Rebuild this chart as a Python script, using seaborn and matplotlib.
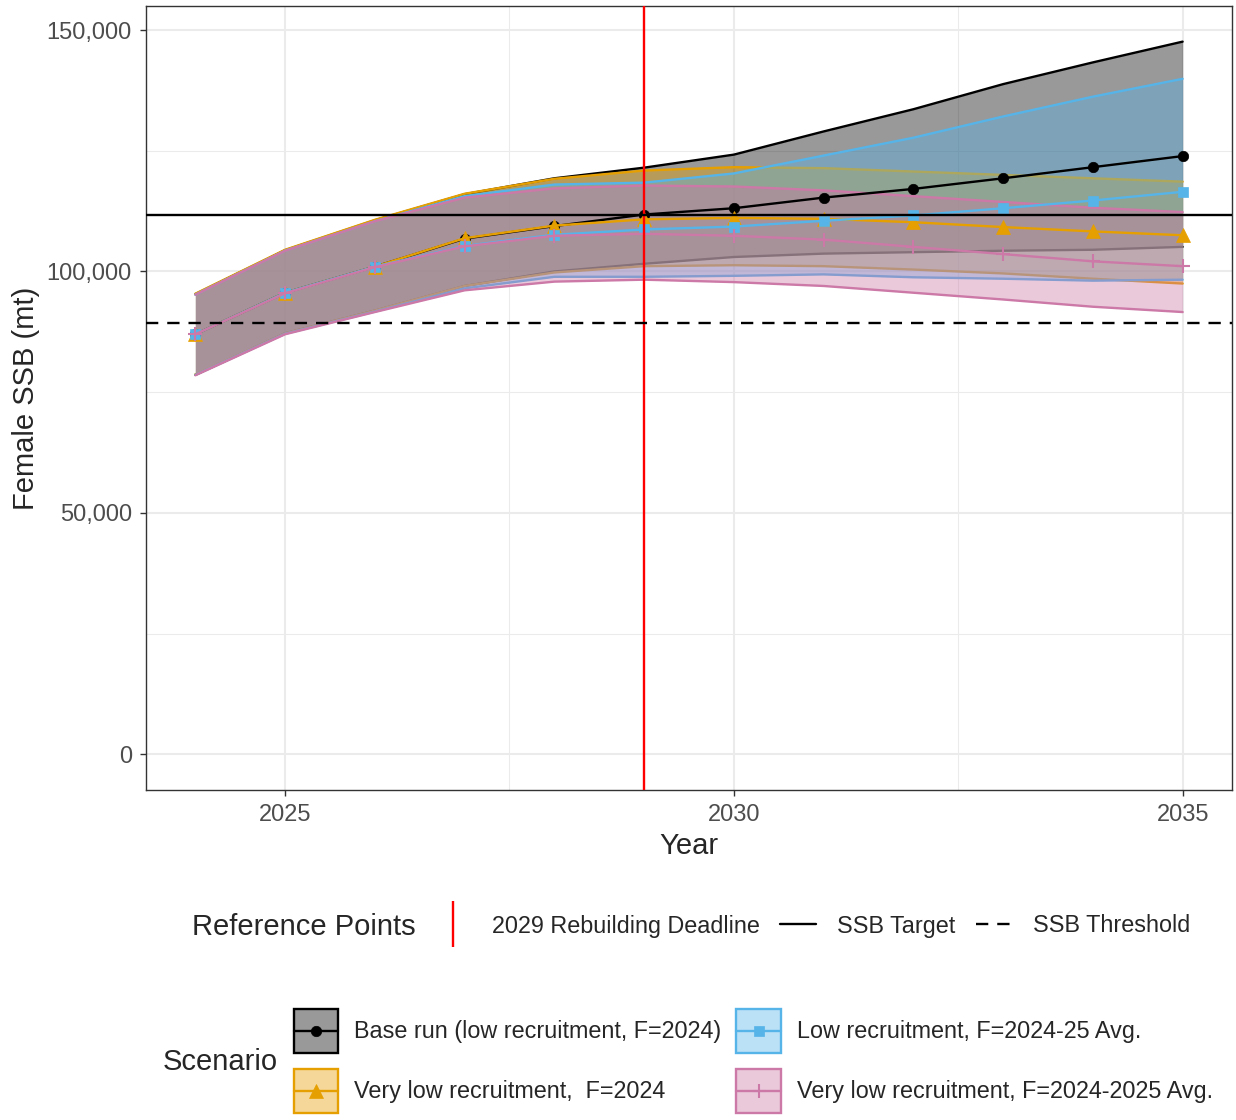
# SSB projections by scenario, with rebuilding reference points

import numpy as np
import pandas as pd
import matplotlib.pyplot as plt
import seaborn as sns
from matplotlib.lines import Line2D
from matplotlib.patches import Patch
from matplotlib.colors import to_rgba
from matplotlib.legend_handler import HandlerLine2D
from matplotlib.ticker import FuncFormatter, MultipleLocator

# data (in thousands of mt)
years = list(range(2024, 2036))

scenarios = [
    "Base run (low recruitment, F=2024)",
    "Very low recruitment,  F=2024",
    "Low recruitment, F=2024-25 Avg.",
    "Very low recruitment, F=2024-2025 Avg.",
]

base_med = [87.0, 95.6, 101.0, 106.8, 109.4, 111.8, 113.1, 115.3, 117.1, 119.3, 121.6, 123.9]
base_hi = [95.3, 104.4, 110.6, 116.0, 119.3, 121.5, 124.2, 129.0, 133.6, 138.8, 143.3, 147.6]
base_lo = [78.6, 87.2, 91.9, 97.0, 100.0, 101.6, 103.0, 103.7, 104.0, 104.3, 104.5, 105.1]

vlow_med = [87.0, 95.6, 101.0, 106.9, 109.5, 110.8, 111.1, 110.9, 110.2, 109.2, 108.3, 107.5]
vlow_hi = [95.4, 104.5, 110.7, 116.1, 119.2, 120.9, 121.6, 121.4, 120.7, 120.0, 119.3, 118.6]
vlow_lo = [78.7, 87.2, 91.9, 97.0, 99.8, 101.1, 101.3, 101.1, 100.4, 99.6, 98.5, 97.5]

low_avg_med = [87.0, 95.6, 101.0, 105.3, 107.6, 108.7, 109.3, 110.5, 111.6, 113.1, 114.7, 116.5]
low_avg_hi = [95.2, 104.3, 110.4, 115.6, 118.0, 118.4, 120.3, 124.0, 127.7, 132.1, 136.2, 139.9]
low_avg_lo = [78.6, 87.1, 91.7, 96.5, 98.9, 98.9, 99.1, 99.4, 98.8, 98.5, 98.1, 98.3]

vlow_avg_med = [87.0, 95.5, 100.9, 105.2, 107.4, 107.8, 107.4, 106.6, 105.1, 103.6, 102.1, 101.1]
vlow_avg_hi = [95.2, 104.3, 110.4, 115.3, 117.2, 117.8, 117.6, 116.8, 115.6, 114.4, 113.2, 112.3]
vlow_avg_lo = [78.5, 87.0, 91.6, 96.1, 97.9, 98.3, 97.8, 97.0, 95.6, 94.2, 92.7, 91.6]

ssb_target = 111.8
ssb_threshold = 89.3
rebuild_year = 2029

ref_labels = ["2029 Rebuilding Deadline", "SSB Target", "SSB Threshold"]

# long table for seaborn
rows = []
all_series = [(base_med, base_lo, base_hi), (vlow_med, vlow_lo, vlow_hi),
              (low_avg_med, low_avg_lo, low_avg_hi), (vlow_avg_med, vlow_avg_lo, vlow_avg_hi)]
for name, (med, lo, hi) in zip(scenarios, all_series):
    for y, m, l, h in zip(years, med, lo, hi):
        rows.append({"Year": y, "Scenario": name, "ssb": m * 1000, "lo": l * 1000, "hi": h * 1000})
df = pd.DataFrame(rows)

colors = ["#000000", "#E69F00", "#56B4E9", "#CC79A7"]
markers = ["o", "^", "s", "+"]
msizes = [7.5, 10, 7, 10.5]
LW = 1.7
DASH = (0, (5.2, 3.8))


# legend line centred in the key box (ggplot style)
class CenteredLine(HandlerLine2D):
    def create_artists(self, legend, orig_handle, xdescent, ydescent, width, height, fontsize, trans):
        arts = super().create_artists(legend, orig_handle, xdescent, ydescent, width, height, fontsize, trans)
        for a in arts:
            a.set_ydata(np.full(len(a.get_ydata()), height / 2 - ydescent))
        return arts


sns.set_style("white")
plt.rcParams["font.family"] = ["Liberation Sans", "DejaVu Sans"]

fig = plt.figure(figsize=(12.36, 11.2), dpi=100)
ax = fig.add_axes([146 / 1236, 1 - 790 / 1120, 1086 / 1236, 784 / 1120])

# ribbons, drawn scenario by scenario (fill then outline)
for name, c in zip(scenarios, colors):
    sub = df[df["Scenario"] == name]
    ax.fill_between(sub["Year"], sub["lo"], sub["hi"], color=to_rgba(c, 0.4), lw=0, zorder=2)
    ax.plot(sub["Year"], sub["hi"], color=c, lw=LW, zorder=2)
    ax.plot(sub["Year"], sub["lo"], color=c, lw=LW, zorder=2)

# median trajectories
for name, c, m, ms in zip(scenarios, colors, markers, msizes):
    sub = df[df["Scenario"] == name]
    sns.lineplot(data=sub, x="Year", y="ssb", color=c, marker=m, markersize=ms,
                 markeredgecolor=c, markeredgewidth=1.5 if m == "+" else 0.5,
                 linewidth=LW, errorbar=None, ax=ax, zorder=3)

# reference points
ax.axvline(rebuild_year, color="red", lw=LW, zorder=4)
ax.axhline(ssb_target * 1000, color="black", lw=LW, zorder=4)
ax.axhline(ssb_threshold * 1000, color="black", lw=LW, ls=DASH, zorder=4)

# scales like ggplot (5% expansion, y from 0)
x0, x1 = min(years), max(years)
ax.set_xlim(x0 - 0.05 * (x1 - x0), x1 + 0.05 * (x1 - x0))
ytop = df["hi"].max()
ax.set_ylim(-0.05 * ytop, ytop * 1.05)
ax.xaxis.set_major_locator(MultipleLocator(5))
ax.xaxis.set_minor_locator(MultipleLocator(2.5))
ax.yaxis.set_major_locator(MultipleLocator(50000))
ax.yaxis.set_minor_locator(MultipleLocator(25000))
ax.yaxis.set_major_formatter(FuncFormatter(lambda v, p: f"{v:,.0f}"))

ax.grid(which="major", color="#EBEBEB", lw=1.5)
ax.grid(which="minor", color="#EBEBEB", lw=0.75)
ax.set_axisbelow(True)
for s in ax.spines.values():
    s.set_color("#333333")
    s.set_linewidth(1.0)
ax.tick_params(which="major", length=4, width=1, color="#333333", labelcolor="#4D4D4D",
               labelsize=17, pad=6.2, left=True, bottom=True)
ax.tick_params(which="minor", length=0)

ax.set_xlabel("Year", fontsize=21, labelpad=4.5)
ax.set_ylabel("Female SSB (mt)", fontsize=21, labelpad=4.5)

# legend: reference points
fig.text(192 / 1236, 1 - 927 / 1120, "Reference Points", fontsize=21, ha="left", va="center")
ref_handles = [
    Line2D([], [], color="red", marker="|", linestyle="None", markersize=32.5, markeredgewidth=LW),
    Line2D([], [], color="black", lw=LW),
    Line2D([], [], color="black", lw=LW, ls=DASH),
]
fig.legend(ref_handles, ref_labels, loc="center left", bbox_to_anchor=(435 / 1236, 1 - 926 / 1120),
           ncol=3, frameon=False, fontsize=16.8, handlelength=1.54, handletextpad=0.9,
           columnspacing=0.88, borderpad=0, borderaxespad=0, numpoints=1)

# legend: scenarios
fig.text(163 / 1236, 1 - 1062 / 1120, "Scenario", fontsize=21, ha="left", va="center")
sc_handles = []
for c, m, ms in zip(colors, markers, msizes):
    box = Patch(facecolor=to_rgba(c, 0.4), edgecolor=c, lw=LW)
    ln = Line2D([], [], color=c, marker=m, markersize=ms, markeredgecolor=c,
                markeredgewidth=1.5 if m == "+" else 0.5, lw=LW)
    sc_handles.append((box, ln))
fig.legend(sc_handles, scenarios, loc="center left", bbox_to_anchor=(294 / 1236, 1 - 1061 / 1120),
           ncol=2, frameon=False, fontsize=16.8, handlelength=1.9, handleheight=2.52,
           handletextpad=0.68, columnspacing=0.64, labelspacing=0.69, borderpad=0,
           borderaxespad=0, numpoints=1, handler_map={Line2D: CenteredLine(numpoints=1)})

fig.savefig("out.png", dpi=100)
